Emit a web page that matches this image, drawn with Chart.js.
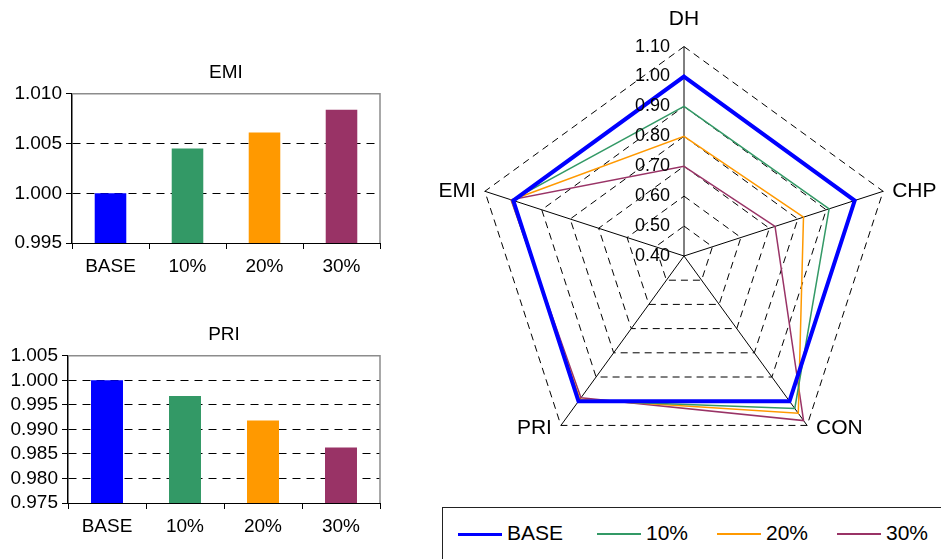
<!DOCTYPE html>
<html>
<head>
<meta charset="utf-8">
<script src="https://cdn.jsdelivr.net/npm/chart.js@4.4.1/dist/chart.umd.min.js"></script>
<style>
  body { margin: 0; background: #fff; overflow: hidden; }
  #wrap { position: relative; width: 941px; height: 559px; overflow: hidden; font-family: "Liberation Sans", Arial, sans-serif; }
  canvas { position: absolute; }
  #legend { position: absolute; left: 442px; top: 507px; width: 520px; height: 70px; border: 1px solid #222; box-sizing: border-box; }
  .item { position: absolute; top: 12px; height: 26px; font-size: 21px; line-height: 26px; color: #000; }
  .item span.ln { position: absolute; top: 13px; left: 0; width: 44px; }
  .item span.tx { position: absolute; left: 49px; white-space: nowrap; }
</style>
</head>
<body>
<div id="wrap">
  <canvas id="emiChart" width="390" height="225" style="left:0;top:55px"></canvas>
  <canvas id="priChart" width="390" height="225" style="left:0;top:315px"></canvas>
  <canvas id="radarChart" width="521" height="505" style="left:420px;top:-13px"></canvas>
  <div id="legend"></div>
</div>
<script>
// data
var series = ['BASE', '10%', '20%', '30%'];
var colors = ['#0000FF', '#339966', '#FF9900', '#993366'];
var lineWidths = [4, 1.5, 1.5, 1.5];

var emiValues = [1.0000, 1.0045, 1.0061, 1.0084];
var emiTicks = [0.995, 1.000, 1.005, 1.010];

var priValues = [1.0000, 0.9968, 0.9918, 0.9863];
var priTicks = [0.975, 0.980, 0.985, 0.990, 0.995, 1.000, 1.005];

// radar axes go clockwise from the top
var radarAxes = ['DH', 'CHP', 'CON', 'PRI', 'EMI'];
var baseVals = [1.00, 1.00, 1.00, 1.00, 1.000];
var p10Vals = [0.90, 0.91, 1.03, 0.997, 1.0045];
var p20Vals = [0.80, 0.82, 1.05, 0.992, 1.006];
var p30Vals = [0.70, 0.72, 1.08, 0.986, 1.008];
var radarTicks = [0.40, 0.50, 0.60, 0.70, 0.80, 0.90, 1.00, 1.10];

Chart.defaults.font.family = '"Liberation Sans", Arial, sans-serif';
Chart.defaults.color = '#000';

// gray frame on top and right of the plot area
var plotFrame = {
  id: 'plotFrame',
  afterDatasetsDraw: function(chart) {
    var a = chart.chartArea, ctx = chart.ctx;
    ctx.save();
    ctx.strokeStyle = '#8c8c8c';
    ctx.lineWidth = 1.5;
    ctx.beginPath();
    ctx.moveTo(a.left, a.top);
    ctx.lineTo(a.right, a.top);
    ctx.lineTo(a.right, a.bottom);
    ctx.stroke();
    ctx.restore();
  }
};

function barChart(id, title, values, ticks, axisWidth, titlePad) {
  var lo = ticks[0], hi = ticks[ticks.length - 1];
  return new Chart(document.getElementById(id).getContext('2d'), {
    type: 'bar',
    data: {
      labels: series,
      datasets: [{
        data: values,
        backgroundColor: colors,
        categoryPercentage: 1,
        barPercentage: 0.41
      }]
    },
    options: {
      responsive: false,
      animation: false,
      layout: { padding: { right: 10 } },
      plugins: {
        legend: { display: false },
        tooltip: { enabled: false },
        title: {
          display: true, text: title, fullSize: false,
          font: { size: 19, weight: 'normal' },
          padding: titlePad
        }
      },
      scales: {
        x: {
          grid: { offset: true, drawOnChartArea: false, drawTicks: true, tickLength: 6, color: '#000' },
          border: { color: '#000', width: 1 },
          ticks: { font: { size: 19 }, padding: 6 },
          afterFit: function(s) { s.height = 37; }
        },
        y: {
          min: lo, max: hi,
          afterBuildTicks: function(s) { s.ticks = ticks.map(function(v) { return { value: v }; }); },
          grid: {
            color: function(c) { return (c.tick && (c.tick.value === lo || c.tick.value === hi)) ? 'rgba(0,0,0,0)' : '#000'; },
            tickColor: '#000', tickLength: 6, lineWidth: 1
          },
          border: { color: '#000', width: 1.5, dash: [8, 6] },
          ticks: {
            font: { size: 19 }, padding: 4, autoSkip: false,
            callback: function(v) { return Number(v).toFixed(3); }
          },
          afterFit: function(s) { s.width = axisWidth; }
        }
      }
    },
    plugins: [plotFrame]
  });
}

var emiChart = barChart('emiChart', 'EMI', emiValues, emiTicks, 72, { top: 6, bottom: 10 });
var priChart = barChart('priChart', 'PRI', priValues, priTicks, 68, { top: 8, bottom: 10 });

// tick labels left of the vertical axis, axis names beside the outer corners
var radarText = {
  id: 'radarText',
  afterDraw: function(chart) {
    var s = chart.scales.r, ctx = chart.ctx;
    ctx.save();
    ctx.fillStyle = '#000';
    ctx.font = '18px "Liberation Sans", Arial, sans-serif';
    ctx.textAlign = 'right';
    ctx.textBaseline = 'middle';
    radarTicks.forEach(function(v) {
      var p = s.getPointPositionForValue(0, v);
      ctx.fillText(v.toFixed(2), p.x - 14, p.y);
    });
    ctx.font = '21px "Liberation Sans", Arial, sans-serif';
    radarAxes.forEach(function(name, i) {
      var p = s.getPointPosition(i, s.drawingArea);
      var dx = p.x - s.xCenter;
      if (Math.abs(dx) < 1) {
        ctx.textAlign = 'center';
        ctx.fillText(name, p.x, p.y - 27);
      } else if (dx > 0) {
        ctx.textAlign = 'left';
        ctx.fillText(name, p.x + 9, p.y + (p.y > s.yCenter ? 3 : 0));
      } else {
        ctx.textAlign = 'right';
        ctx.fillText(name, p.x - 9, p.y + (p.y > s.yCenter ? 3 : 0));
      }
    });
    ctx.restore();
  }
};

var radarSets = [baseVals, p10Vals, p20Vals, p30Vals].map(function(d, i) {
  return {
    label: series[i],
    data: d,
    borderColor: colors[i],
    borderWidth: lineWidths[i],
    fill: false,
    pointRadius: 0,
    tension: 0
  };
});

var radarChart = new Chart(document.getElementById('radarChart').getContext('2d'), {
  type: 'radar',
  data: { labels: radarAxes, datasets: radarSets },
  options: {
    responsive: false,
    animation: false,
    layout: { padding: { left: 16 } },
    plugins: { legend: { display: false }, tooltip: { enabled: false } },
    scales: {
      r: {
        min: 0.4, max: 1.1,
        afterBuildTicks: function(s) { s.ticks = radarTicks.map(function(v) { return { value: v }; }); },
        ticks: { display: false },
        grid: { color: '#000', lineWidth: 1 },
        border: { dash: [7, 5] },
        angleLines: { color: '#000', lineWidth: 1 },
        // kept for sizing the radar, drawn by radarText instead
        pointLabels: { font: { size: 21 }, padding: 10, color: 'rgba(0,0,0,0)' }
      }
    }
  },
  plugins: [radarText]
});

// legend
var legend = document.getElementById('legend');
var lefts = [15, 154, 274, 394];
series.forEach(function(name, i) {
  var it = document.createElement('div');
  it.className = 'item';
  it.style.left = lefts[i] + 'px';
  var ln = document.createElement('span');
  ln.className = 'ln';
  ln.style.borderTop = (i === 0 ? 3 : 2) + 'px solid ' + colors[i];
  var tx = document.createElement('span');
  tx.className = 'tx';
  tx.textContent = name;
  it.appendChild(ln);
  it.appendChild(tx);
  legend.appendChild(it);
});
</script>
</body>
</html>
